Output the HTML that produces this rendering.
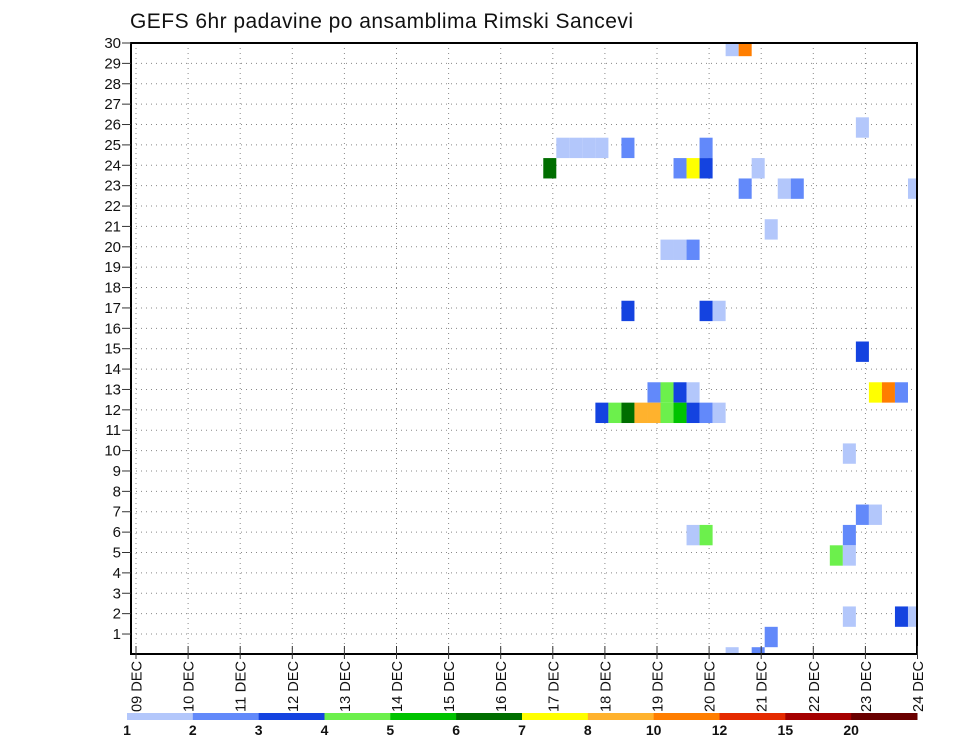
<!DOCTYPE html>
<html><head><meta charset="utf-8"><style>
body{margin:0;background:#fff;}
svg{display:block;font-family:"Liberation Sans",sans-serif;}
</style></head><body>
<svg id="chart" width="960" height="742" viewBox="0 0 960 742" xmlns="http://www.w3.org/2000/svg">
<rect width="960" height="742" fill="#fff"/>
<text x="130" y="28" font-size="21" fill="#111" textLength="503">GEFS 6hr padavine po ansamblima Rimski Sancevi</text>
<g id="grid"></g>
<g id="cells" clip-path="url(#plotclip)"></g>
<defs><clipPath id="plotclip"><rect x="131" y="43" width="786" height="611"/></clipPath></defs>
<rect x="131" y="43" width="786" height="611" fill="none" stroke="#000" stroke-width="2"/>
<g id="axes"></g>
<g id="legend"></g>
</svg>
<script>
const dateLabels = ["09 DEC","10 DEC","11 DEC","12 DEC","13 DEC","14 DEC","15 DEC","16 DEC","17 DEC","18 DEC","19 DEC","20 DEC","21 DEC","22 DEC","23 DEC","24 DEC"];
const memberTicks = [1,2,3,4,5,6,7,8,9,10,11,12,13,14,15,16,17,18,19,20,21,22,23,24,25,26,27,28,29,30];
const levelLabels = ["1","2","3","4","5","6","7","8","10","12","15","20"];
const levelColors = ["#b3c7fb","#6289fa","#1443e0","#6cf04c","#00c300","#006e00","#ffff00","#ffb22d","#ff7e00","#e52a00","#a50000","#6a0000"];
// cells: member, 6h step index from 09 DEC 00Z, colour level index
const cellMember = [30,30,26,25,25,25,25,25,25,24,24,24,24,24,23,23,23,23,21,20,20,20,17,17,17,15,13,13,13,13,13,13,13,12,12,12,12,12,12,12,12,12,12,10,7,7,6,6,6,5,5,2,2,2,1,0,0];
const cellStep   = [45,46,55,32,33,34,35,37,43,31,41,42,43,47,46,49,50,59,48,40,41,42,37,43,44,55,39,40,41,42,56,57,58,35,36,37,38,39,40,41,42,43,44,54,55,56,54,42,43,53,54,54,58,59,48,45,47];
const cellLevel  = [0,8,0,0,0,0,0,1,1,5,1,6,2,0,1,0,1,0,0,0,0,1,2,2,0,2,1,3,2,0,6,8,1,2,3,5,7,7,3,4,2,1,0,0,1,0,1,0,3,3,0,0,2,0,1,0,1];

const NS="http://www.w3.org/2000/svg";
function mk(tag,attrs,parent){const e=document.createElementNS(NS,tag);for(const k in attrs)e.setAttribute(k,attrs[k]);parent.appendChild(e);return e;}
const xDay=d=>136+d*52.1;
const xStep=i=>xDay(i/4)+3.5;
const yMem=v=>43+(30-v)*20.38;
const grid=document.getElementById('grid'),cells=document.getElementById('cells'),axes=document.getElementById('axes'),legend=document.getElementById('legend');

dateLabels.forEach((lab,d)=>{
  const x=xDay(d);
  const gl=mk('line',{x1:x,y1:43,x2:x,y2:654,stroke:'#888','stroke-width':1,'stroke-dasharray':'1 4'},grid);
  
  
  const tk=mk('line',{x1:x,y1:646,x2:x,y2:659,stroke:'#333','stroke-width':1},axes);
  
  
  const t=mk('text',{x:0,y:0,'font-size':15,fill:'#111','text-anchor':'end',textLength:51,lengthAdjust:'spacingAndGlyphs',transform:`translate(${x+5.5},661) rotate(-90)`},axes);
  t.textContent=lab;
  
  
});
memberTicks.forEach(v=>{
  const y=yMem(v);
  if(v<30){const gl=mk('line',{x1:131,y1:y,x2:917,y2:y,stroke:'#888','stroke-width':1,'stroke-dasharray':'1 4'},grid);
  
  }
  const tk=mk('line',{x1:122,y1:y,x2:131,y2:y,stroke:'#333','stroke-width':1},axes);
  
  
  const t=mk('text',{x:121,y:y+5,'font-size':15,fill:'#111','text-anchor':'end'},axes);
  t.textContent=v;
  
  
});
cellMember.forEach((m,k)=>{
  const x=xStep(cellStep[k]);
  const cy=yMem(m)+3;
  const r=mk('rect',{x:x,y:cy-10.2,width:13.03,height:20.38,fill:levelColors[cellLevel[k]]},cells);
  
  
});
const segW=790/levelColors.length;
levelColors.forEach((c,k)=>{
  const r=mk('rect',{x:127+k*segW,y:713,width:segW+0.5,height:7,fill:c},legend);
  
  
});
levelLabels.forEach((lab,k)=>{
  const t=mk('text',{x:127+k*segW,y:735,'font-size':14,'font-weight':'bold',fill:'#111','text-anchor':'middle'},legend);
  t.textContent=lab;
  
  
});
</script>
</body></html>
